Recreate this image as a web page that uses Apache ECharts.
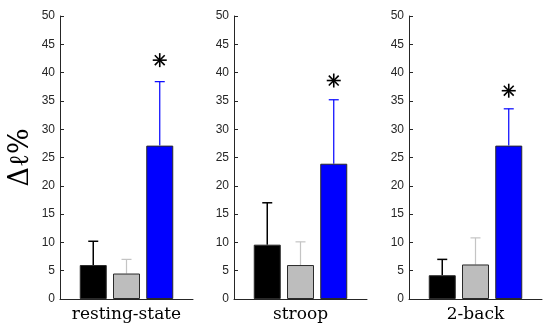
<!DOCTYPE html>
<html>
<head>
<meta charset="utf-8">
<script src="https://cdn.jsdelivr.net/npm/echarts@6/dist/echarts.min.js"></script>
<style>html,body{margin:0;padding:0;background:#fff}#c{width:550px;height:329px}</style>
</head>
<body>
<div id="c"></div>
<script>
// ---- data ----
const groups = ['resting-state', 'stroop', '2-back'];
const meansRest = [6.0, 4.5, 27.1];
const upperRest = [10.2, 7.0, 38.4];
const meansStroop = [9.6, 6.0, 23.9];
const upperStroop = [17.0, 10.1, 35.2];
const means2back = [4.2, 6.1, 27.1];
const upper2back = [7.0, 10.8, 33.6];
const starValues = [42.2, 38.6, 36.8];
const yTicks = [0, 5, 10, 15, 20, 25, 30, 35, 40, 45, 50];

const allMeans = [meansRest, meansStroop, means2back];
const allUpper = [upperRest, upperStroop, upper2back];

// ---- styles ----
const barColors = ['#000000', '#bdbdbd', '#0000ff'];
const errColors = ['#000000', '#c4c4c4', '#0000ff'];
const lefts = [60, 234, 409];
const gridW = 133;

const chart = echarts.init(document.getElementById('c'), null, {renderer: 'canvas'});

const grids = [], xAxes = [], yAxes = [], series = [];
groups.forEach((g, i) => {
  grids.push({left: lefts[i], width: gridW, top: 16, bottom: 30});
  xAxes.push({
    type: 'value', gridIndex: i, min: 0, max: 4,
    axisLine: {show: true, lineStyle: {color: '#262626', width: 1}},
    axisTick: {show: false}, axisLabel: {show: false}, splitLine: {show: false},
    name: g, nameLocation: 'middle', nameGap: 7,
    nameTextStyle: {fontFamily: 'DejaVu Serif', fontSize: 17, color: '#000', verticalAlign: 'top'}
  });
  yAxes.push({
    type: 'value', gridIndex: i, min: yTicks[0], max: yTicks[yTicks.length - 1], interval: 5,
    axisLine: {show: true, lineStyle: {color: '#262626', width: 1}},
    axisTick: {show: true, inside: true, length: 4, lineStyle: {color: '#262626'}},
    axisLabel: {fontFamily: 'Liberation Sans', fontSize: 12, color: '#262626', margin: 5},
    splitLine: {show: false},
    name: i === 0 ? 'Δℓ%' : '', nameLocation: 'middle', nameRotate: 90, nameGap: 26,
    nameTextStyle: {fontFamily: 'DejaVu Serif', fontSize: 27, color: '#000'}
  });
  series.push({
    type: 'bar', xAxisIndex: i, yAxisIndex: i, barWidth: 27,
    data: allMeans[i].map((v, k) => ({
      value: [k + 1, v],
      itemStyle: {color: barColors[k], borderColor: '#2a2a2a', borderWidth: 1}
    })),
    silent: true, animation: false
  });
  series.push({
    type: 'custom', xAxisIndex: i, yAxisIndex: i, animation: false, silent: true,
    data: allMeans[i].map((v, k) => [k + 1, v, allUpper[i][k], k]),
    renderItem: function (params, api) {
      const x = api.value(0), m = api.value(1), u = api.value(2), k = api.value(3);
      const p0 = api.coord([x, m]);
      const p1 = api.coord([x, u]);
      const half = 5;
      const st = {stroke: errColors[k], lineWidth: k === 0 ? 1.5 : 1.2};
      return {type: 'group', children: [
        {type: 'line', shape: {x1: p0[0], y1: p0[1], x2: p1[0], y2: p1[1]}, style: st},
        {type: 'line', shape: {x1: p1[0] - half, y1: p1[1], x2: p1[0] + half, y2: p1[1]}, style: st}
      ]};
    }
  });
  series.push({
    type: 'custom', xAxisIndex: i, yAxisIndex: i, animation: false, silent: true,
    data: [[3, starValues[i]]],
    renderItem: function (params, api) {
      const c = api.coord([api.value(0), api.value(1)]);
      const r = 7, d = r * 0.707;
      const st = {stroke: '#000', lineWidth: 1.6};
      return {type: 'group', children: [
        {type: 'line', shape: {x1: c[0], y1: c[1] - r, x2: c[0], y2: c[1] + r}, style: st},
        {type: 'line', shape: {x1: c[0] - r, y1: c[1], x2: c[0] + r, y2: c[1]}, style: st},
        {type: 'line', shape: {x1: c[0] - d, y1: c[1] - d, x2: c[0] + d, y2: c[1] + d}, style: st},
        {type: 'line', shape: {x1: c[0] - d, y1: c[1] + d, x2: c[0] + d, y2: c[1] - d}, style: st}
      ]};
    }
  });
});

chart.setOption({animation: false, grid: grids, xAxis: xAxes, yAxis: yAxes, series: series});
</script>
</body>
</html>
